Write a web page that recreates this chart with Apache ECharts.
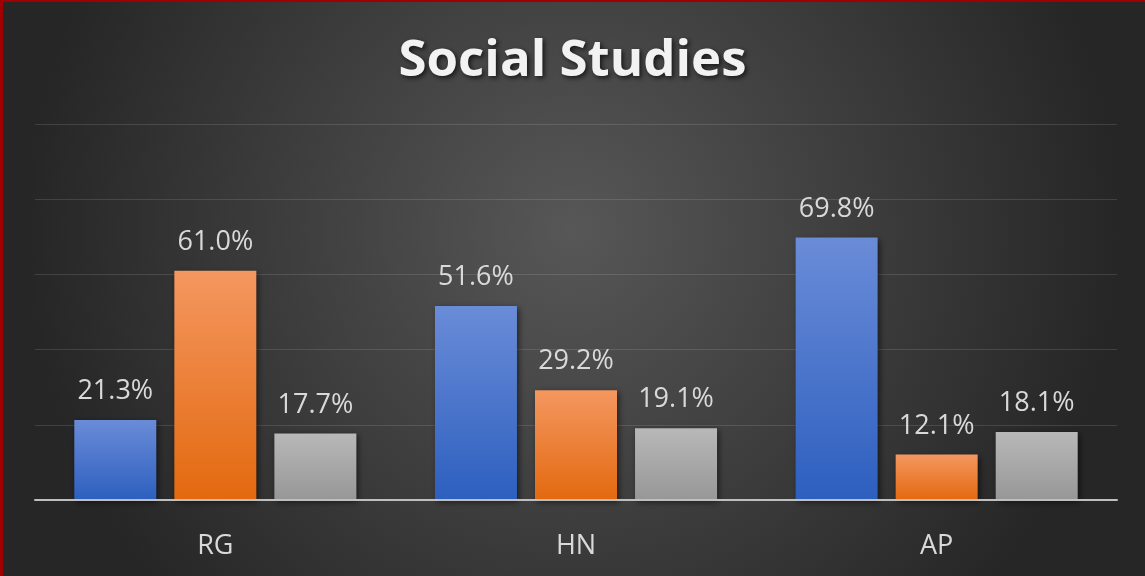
<!DOCTYPE html>
<html>
<head>
<meta charset="utf-8">
<script src="https://cdn.jsdelivr.net/npm/echarts@6/dist/echarts.min.js"></script>
<style>
  html, body { margin: 0; padding: 0; background: #2b2b2b; }
  #chart { width: 1145px; height: 576px; }
</style>
</head>
<body>
<div id="chart"></div>
<script>
var categories = ["RG", "HN", "AP"];
var seriesNames = ["Blue", "Orange", "Gray"];
var blueValues = [21.3, 51.6, 69.8];
var orangeValues = [61.0, 29.2, 12.1];
var grayValues = [17.7, 19.1, 18.1];

var chart = echarts.init(document.getElementById("chart"));

function grad(top, bottom) {
  return new echarts.graphic.LinearGradient(0, 0, 0, 1, [
    { offset: 0, color: top },
    { offset: 1, color: bottom },
  ]);
}

function barSeries(name, data, top, bottom) {
  return {
    name: name,
    type: "bar",
    data: data,
    barWidth: 82,
    barGap: "22%",
    itemStyle: {
      color: grad(top, bottom),
      shadowBlur: 6,
      shadowColor: "rgba(0,0,0,0.55)",
      shadowOffsetX: 2,
      shadowOffsetY: 2,
    },
    label: {
      show: true,
      position: "top",
      distance: 15,
      color: "#d9d9d9",
      fontSize: 27,
      fontFamily: "Open Sans",
      formatter: function (p) {
        return p.value.toFixed(1) + "%";
      },
    },
  };
}

var option = {
  backgroundColor: new echarts.graphic.RadialGradient(0.5, 0.4, 0.95, [
    { offset: 0, color: "#575757" },
    { offset: 1, color: "#262626" },
  ]),
  animation: false,
  title: {
    text: "Social Studies",
    left: "center",
    top: 31,
    textStyle: {
      color: "#f2f2f2",
      fontSize: 51,
      fontWeight: "bold",
      fontFamily: "Open Sans",
      textShadowColor: "rgba(0,0,0,0.7)",
      textShadowBlur: 5,
      textShadowOffsetX: 2,
      textShadowOffsetY: 2,
    },
  },
  graphic: [
    { type: "rect", left: 0, top: 0, shape: { width: 3, height: 576 }, style: { fill: "#a00000" } },
    { type: "rect", left: 0, top: 0, shape: { width: 1145, height: 2 }, style: { fill: "#a00000" } },
  ],
  grid: { left: 35, right: 28, top: 124, bottom: 76 },
  xAxis: {
    type: "category",
    data: categories,
    axisTick: { show: false },
    axisLine: { lineStyle: { color: "#bfbfbf", width: 2 } },
    axisLabel: {
      color: "#d9d9d9",
      fontSize: 27,
      fontFamily: "Open Sans",
      margin: 33,
    },
    z: 5,
  },
  yAxis: {
    type: "value",
    min: 0,
    max: 100,
    interval: 20,
    axisLabel: { show: false },
    axisLine: { show: false },
    axisTick: { show: false },
    splitLine: { lineStyle: { color: "rgba(255,255,255,0.12)", width: 1 } },
  },
  series: [
    barSeries(seriesNames[0], blueValues, "#6a8cd8", "#2d5fbf"),
    barSeries(seriesNames[1], orangeValues, "#f49760", "#e3690f"),
    barSeries(seriesNames[2], grayValues, "#b8b8b8", "#979797"),
  ],
};

chart.setOption(option);
</script>
</body>
</html>
